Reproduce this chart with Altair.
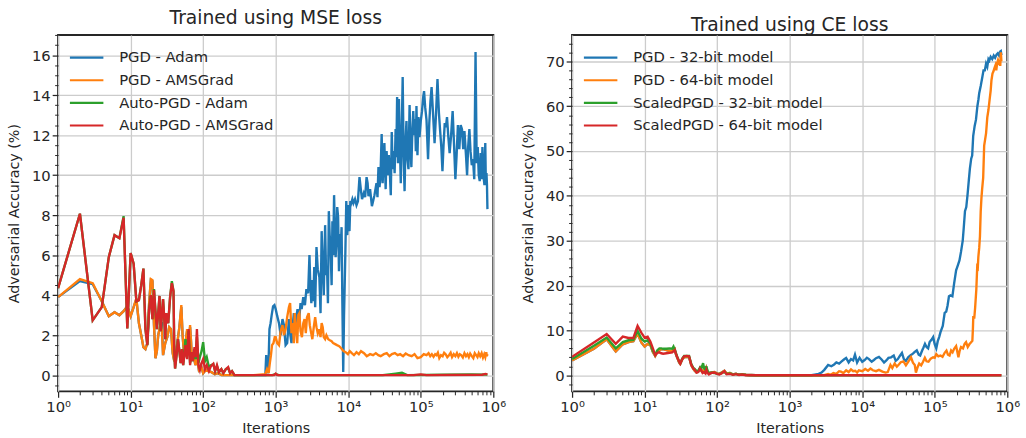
import altair as alt
import pandas as pd

# ---------------------------------------------------------------------------
# Adversarial accuracy (%) against attack iterations, as (iteration, value)
# ---------------------------------------------------------------------------

# Left panel: model trained with MSE loss
mse_names = ["PGD - Adam", "PGD - AMSGrad", "Auto-PGD - Adam", "Auto-PGD - AMSGrad"]

mse_pgd_adam = [
    (1, 3.9), (2, 4.7), (3, 4.55), (4, 3.7), (5, 2.95), (6, 3.15), (7, 3.0), (8, 3.2), (9, 3.45),
    (10, 2.95), (11, 3.4), (12, 3.8), (13, 2.6), (14, 2.0), (15, 1.4), (16, 1.3), (17, 1.6),
    (18, 3.6), (19, 4.75), (20, 4.7), (21, 2.5), (22, 0.85), (23, 1.2), (24, 2.0), (26, 2.6),
    (27, 2.6), (28, 1.0), (30, 1.6), (32, 1.9), (34, 2.4), (36, 2.3), (38, 1.1), (40, 0.7),
    (42, 1.1), (44, 1.6), (47, 2.4), (50, 3.4), (52, 2.0), (55, 0.9), (58, 1.8), (60, 2.2),
    (63, 1.5), (66, 2.4), (68, 1.7), (70, 0.8), (74, 1.0), (78, 0.5), (82, 0.9), (87, 0.3),
    (93, 0.5), (100, 0.1), (108, 0.25), (118, 0.2), (130, 0.15), (145, 0.05), (160, 0.1),
    (180, 0.0), (300, 0.0), (500, 0.0), (720, 0.0), (740, 1.0), (760, 0.3), (790, 0.1),
    (820, 2.3), (850, 2.6), (880, 3.0), (920, 3.44), (960, 3.5), (1000, 3.3), (1050, 2.95),
    (1110, 2.6), (1170, 2.0), (1240, 2.8), (1300, 2.5), (1370, 1.5), (1440, 1.6), (1520, 2.8),
    (1580, 2.1), (1650, 1.6), (1720, 2.5), (1780, 3.1), (1850, 2.3), (1920, 2.9), (2000, 3.3),
    (2100, 2.7), (2200, 3.6), (2280, 3.3), (2400, 3.9), (2530, 3.5), (2650, 4.3), (2800, 4.1),
    (2920, 6.0), (3000, 4.5), (3100, 3.6), (3200, 4.75), (3300, 3.7), (3400, 5.4), (3500, 3.4),
    (3650, 6.4), (3800, 5.3), (4000, 4.9), (4150, 3.1), (4300, 7.2), (4450, 5.4), (4600, 4.0),
    (4800, 7.5), (4950, 5.0), (5100, 5.4), (5250, 3.6), (5400, 8.2), (5550, 7.0), (5700, 6.4),
    (5900, 4.5), (6050, 7.7), (6200, 6.0), (6380, 9.0), (6550, 7.2), (6700, 5.9), (6900, 6.8),
    (7050, 8.4), (7250, 7.9), (7450, 5.2), (7700, 7.05), (7900, 6.5), (8100, 7.4), (8300, 3.6),
    (8530, 0.16), (8750, 3.0), (8900, 4.2), (9100, 5.9), (9400, 8.7), (9700, 7.0), (10000, 8.5),
    (10400, 7.2), (10700, 8.7), (11000, 8.6), (11400, 8.8), (11800, 8.6), (12400, 8.8),
    (13000, 8.5), (13600, 8.7), (14300, 9.9), (14900, 9.3), (15500, 8.8), (16400, 9.1),
    (17100, 8.9), (17900, 9.9), (18500, 9.6), (19000, 8.95), (20000, 9.3), (21200, 8.45),
    (22000, 8.7), (23000, 9.0), (24500, 9.6), (25300, 8.9), (26100, 10.4), (27000, 9.4),
    (27800, 9.9), (28900, 12.05), (29800, 9.6), (30600, 10.5), (31500, 11.6), (32800, 9.3),
    (33800, 11.2), (35000, 10.0), (36200, 11.0), (37400, 10.2), (38600, 9.0), (39800, 12.15),
    (41000, 10.3), (42400, 11.2), (43600, 10.1), (45000, 12.3), (46000, 10.9), (47200, 13.9),
    (48500, 10.6), (50000, 13.8), (51500, 11.5), (53000, 9.6), (54600, 12.1), (56300, 14.9),
    (58000, 11.0), (59800, 9.2), (61500, 11.6), (63500, 12.7), (65500, 10.8), (67700, 10.3),
    (70100, 13.5), (72200, 11.4), (74200, 10.4), (76500, 12.2), (78800, 13.2), (81000, 12.0),
    (83500, 12.8), (85500, 11.2), (87200, 13.45), (90000, 11.0), (93000, 12.9), (96000, 11.9),
    (100000, 12.7), (104000, 13.2), (108000, 13.9), (111000, 14.2), (115000, 13.4),
    (120000, 12.75), (126000, 10.8), (131000, 12.6), (136000, 13.7), (141000, 14.4),
    (148000, 13.0), (155000, 11.6), (162000, 13.0), (170000, 14.8), (178000, 13.1),
    (185000, 12.2), (192000, 11.4), (199000, 10.2), (206000, 11.5), (214000, 12.6),
    (222000, 12.4), (230000, 12.9), (240000, 11.9), (250000, 11.1), (262000, 12.0),
    (275000, 13.2), (287000, 11.6), (300000, 9.8), (312000, 11.0), (325000, 12.5),
    (340000, 11.3), (355000, 12.5), (370000, 12.3), (385000, 11.3), (400000, 12.2),
    (420000, 11.0), (435000, 10.0), (450000, 11.4), (468000, 12.3), (485000, 11.2),
    (505000, 10.5), (525000, 10.8), (546000, 9.8), (569000, 16.15), (590000, 10.6),
    (610000, 11.4), (630000, 10.0), (650000, 9.7), (670000, 11.1), (690000, 9.8),
    (708000, 11.4), (730000, 10.0), (755000, 9.5), (775000, 11.6), (790000, 9.5),
    (805000, 10.1), (818000, 9.5), (830000, 8.3),
]

mse_pgd_amsgrad = [
    (1, 3.9), (2, 4.8), (3, 4.6), (4, 3.7), (5, 2.95), (6, 3.15), (7, 3.0), (8, 3.2), (9, 3.45),
    (10, 2.95), (11, 3.4), (12, 3.85), (13, 2.6), (14, 2.0), (15, 1.4), (16, 1.3), (17, 1.6),
    (18, 3.6), (19, 4.8), (20, 4.75), (21, 2.5), (22, 0.85), (23, 1.2), (24, 2.0), (26, 2.6),
    (27, 2.2), (28, 1.0), (30, 1.6), (32, 1.9), (34, 2.4), (36, 2.3), (38, 1.1), (40, 0.7),
    (42, 1.1), (44, 1.6), (47, 2.4), (50, 3.5), (52, 2.0), (55, 0.9), (58, 1.8), (60, 2.3),
    (63, 1.5), (66, 2.5), (68, 1.7), (70, 0.8), (74, 1.0), (78, 0.5), (82, 0.9), (87, 0.3),
    (93, 0.5), (100, 0.1), (108, 0.25), (118, 0.2), (130, 0.15), (145, 0.05), (160, 0.1),
    (180, 0.0), (300, 0.0), (500, 0.0), (720, 0.05), (760, 0.3), (800, 0.1), (830, 0.6),
    (860, 1.0), (890, 1.5), (930, 1.6), (970, 1.9), (1000, 1.9), (1050, 1.6), (1110, 1.5),
    (1170, 2.2), (1240, 2.5), (1300, 2.0), (1370, 2.3), (1440, 2.9), (1520, 3.4), (1580, 3.6),
    (1650, 2.1), (1720, 2.6), (1780, 1.6), (1830, 3.1), (1900, 2.4), (1980, 1.6), (2050, 3.0),
    (2120, 3.1), (2200, 2.2), (2300, 1.9), (2400, 2.6), (2500, 2.8), (2600, 2.1), (2700, 2.9),
    (2850, 3.1), (2950, 2.5), (3050, 2.2), (3200, 1.8), (3350, 2.4), (3500, 2.9), (3650, 2.4),
    (3800, 2.1), (3960, 2.3), (4150, 1.9), (4300, 2.6), (4450, 2.4), (4600, 1.9), (4800, 1.8),
    (5000, 2.0), (5300, 1.8), (5580, 1.75), (5900, 1.7), (6200, 1.6), (6600, 1.55), (7000, 1.5),
    (7500, 1.45), (8000, 1.35), (8600, 1.2), (9200, 1.15), (9900, 1.05), (10500, 1.2),
    (11200, 1.1), (12000, 1.0), (13000, 1.15), (14000, 1.05), (15000, 1.2), (16500, 1.1),
    (18000, 0.95), (20000, 1.05), (22000, 1.0), (24000, 1.1), (26000, 1.0), (28000, 0.95),
    (31000, 1.05), (34000, 1.1), (37000, 0.95), (40000, 1.05), (44000, 1.1), (48000, 1.0),
    (52000, 1.05), (57000, 0.95), (62000, 1.08), (68000, 1.0), (75000, 0.95), (82000, 1.05),
    (90000, 0.85), (100000, 0.9), (110000, 1.05), (120000, 1.0), (128000, 1.1), (135000, 0.95),
    (142000, 1.05), (150000, 0.92), (158000, 1.05), (165000, 1.0), (172000, 1.12),
    (180000, 0.85), (190000, 1.0), (200000, 0.95), (210000, 1.12), (220000, 1.05),
    (232000, 0.9), (245000, 1.0), (258000, 1.12), (270000, 0.9), (285000, 1.05),
    (300000, 0.95), (315000, 1.1), (330000, 0.92), (345000, 1.05), (360000, 1.0),
    (380000, 0.88), (400000, 1.1), (420000, 0.95), (440000, 1.05), (460000, 0.9),
    (480000, 1.08), (505000, 0.95), (530000, 0.85), (555000, 1.1), (580000, 1.0),
    (605000, 0.9), (630000, 1.1), (660000, 0.95), (690000, 1.1), (720000, 0.88),
    (750000, 1.05), (775000, 0.9), (800000, 1.15), (815000, 0.95), (830000, 1.05),
]

mse_apgd_adam = [
    (1, 4.35), (2, 8.07), (3, 2.74), (4, 3.4), (5, 5.9), (6, 7.0), (7, 6.85), (8, 7.95), (9, 2.33),
    (10, 6.11), (11, 5.57), (12, 3.69), (13, 3.75), (14, 4.5), (15, 5.33), (16, 2.3), (17, 1.5),
    (18, 3.3), (19, 4.0), (20, 2.8), (21, 4.3), (22, 3.2), (23, 2.3), (24, 3.1), (25, 3.96),
    (26, 2.2), (27, 3.0), (28, 3.8), (29, 2.9), (30, 1.8), (31, 3.1), (33, 2.6), (35, 3.9),
    (37, 4.7), (39, 4.2), (40, 1.2), (41, 0.33), (43, 1.0), (45, 1.8), (47, 1.2), (49, 0.6),
    (51, 1.3), (53, 0.5), (55, 1.1), (57, 1.8), (60, 1.0), (63, 2.2), (66, 0.6), (69, 1.0),
    (72, 0.7), (76, 1.3), (79, 0.8), (82, 1.9), (86, 0.6), (90, 0.9), (95, 1.2), (100, 1.65),
    (106, 0.7), (112, 0.9), (120, 0.4), (128, 0.5), (138, 0.55), (146, 0.2), (155, 0.45),
    (165, 0.15), (178, 0.3), (190, 0.1), (205, 0.3), (221, 0.35), (235, 0.1), (250, 0.2),
    (270, 0.0), (900, 0.0), (1000, 0.06), (1100, 0.0), (30000, 0.0), (45000, 0.08),
    (55000, 0.12), (65000, 0.0), (200000, 0.02), (500000, 0.04), (830000, 0.03),
]

mse_apgd_amsgrad = [
    (1, 4.35), (2, 8.07), (3, 2.74), (4, 3.4), (5, 5.9), (6, 7.0), (7, 6.85), (8, 7.87), (9, 2.33),
    (10, 6.11), (11, 5.57), (12, 3.69), (13, 3.75), (14, 4.5), (15, 5.33), (16, 2.3), (17, 1.5),
    (18, 3.3), (19, 4.0), (20, 2.8), (21, 4.26), (22, 3.2), (23, 2.3), (24, 3.1), (25, 3.96),
    (26, 2.2), (27, 3.0), (28, 3.8), (29, 2.9), (30, 1.8), (31, 3.1), (33, 2.6), (35, 3.9),
    (37, 4.6), (39, 4.2), (40, 1.2), (41, 0.33), (43, 1.0), (45, 1.8), (47, 1.2), (49, 0.6),
    (51, 1.3), (53, 0.5), (55, 1.0), (57, 1.5), (60, 0.8), (63, 2.3), (66, 0.5), (69, 1.15),
    (72, 0.7), (76, 1.4), (79, 0.9), (82, 2.3), (86, 0.5), (90, 0.25), (95, 0.6), (100, 0.8),
    (106, 0.3), (112, 0.5), (120, 0.2), (128, 0.45), (138, 0.57), (146, 0.2), (155, 0.5),
    (165, 0.15), (178, 0.3), (190, 0.1), (205, 0.3), (221, 0.4), (235, 0.1), (250, 0.2),
    (270, 0.0), (950, 0.0), (1000, 0.08), (1050, 0.0), (80000, 0.0), (100000, 0.04),
    (120000, 0.0), (700000, 0.02), (780000, 0.06), (830000, 0.04),
]

# Right panel: model trained with CE loss
ce_names = ["PGD - 32-bit model", "PGD - 64-bit model",
            "ScaledPGD - 32-bit model", "ScaledPGD - 64-bit model"]

ce_pgd_32 = [
    (1, 3.3), (2, 5.9), (3, 8.0), (4, 5.3), (5, 6.9), (6, 7.4), (7, 7.6), (8, 9.3), (9, 7.3),
    (10, 6.4), (11, 7.0), (12, 6.7), (13, 5.2), (14, 4.3), (15, 5.3), (16, 5.6), (17, 5.8),
    (18, 5.8), (20, 5.6), (22, 5.4), (24, 5.5), (26, 5.9), (27, 4.7), (28, 4.0), (30, 2.8),
    (31, 2.5), (33, 3.5), (35, 4.0), (38, 4.1), (41, 4.0), (44, 2.2), (47, 1.4), (49, 1.0),
    (52, 0.6), (55, 0.9), (58, 1.6), (60, 1.0), (63, 0.7), (66, 1.5), (69, 0.9), (71, 1.6),
    (74, 0.7), (77, 0.4), (82, 0.5), (91, 0.7), (100, 0.4), (107, 0.3), (115, 0.6),
    (126, 1.0), (135, 0.4), (150, 0.5), (165, 0.2), (182, 0.35), (200, 0.1), (220, 0.2),
    (250, 0.1), (300, 0.05), (340, 0.0), (2000, 0.0), (2200, 0.15), (2500, 0.3), (2750, 0.6),
    (3000, 1.2), (3390, 2.3), (3750, 2.0), (4100, 2.4), (4400, 2.85), (4800, 2.6), (5200, 3.1),
    (5600, 3.5), (6000, 3.86), (6500, 2.85), (7000, 3.6), (7500, 3.3), (7950, 4.6), (8500, 2.85),
    (9200, 3.9), (10000, 3.0), (10800, 3.4), (11600, 3.9), (12400, 3.6), (13500, 3.0),
    (14500, 3.4), (15500, 3.8), (17000, 4.1), (18500, 3.5), (20000, 2.85), (21500, 3.3),
    (23000, 3.86), (25000, 4.0), (27200, 4.4), (29000, 3.2), (31000, 3.6), (33000, 4.3),
    (35300, 4.96), (37500, 3.6), (40000, 3.2), (43000, 4.0), (46000, 4.4), (50000, 4.8),
    (53000, 5.2), (56500, 5.55), (60000, 4.6), (63000, 4.4), (67000, 5.5), (70000, 6.2),
    (73300, 7.0), (77000, 6.3), (81000, 6.0), (85000, 7.4), (90000, 7.9), (95000, 8.5),
    (100000, 6.9), (105000, 6.0), (110000, 7.6), (115000, 8.5), (120000, 9.6), (129000, 11.0),
    (137000, 13.9), (144000, 14.2), (150000, 15.5), (157000, 17.6), (165000, 17.8),
    (175000, 17.6), (185000, 20.5), (197000, 23.4), (208000, 24.5), (219000, 25.6),
    (230000, 27.5), (243000, 30.0), (250000, 32.5), (261000, 36.6), (272000, 37.5),
    (283000, 40.2), (295000, 43.5), (305000, 46.1), (318000, 48.3), (328000, 49.0),
    (339000, 53.4), (355000, 55.6), (370000, 57.0), (387000, 60.0), (400000, 61.5),
    (410000, 62.9), (430000, 64.5), (453000, 66.5), (470000, 68.0), (490000, 68.0),
    (510000, 69.5), (530000, 68.8), (550000, 70.5), (566000, 70.2), (590000, 71.0),
    (620000, 70.5), (650000, 71.3), (680000, 70.8), (710000, 71.5), (740000, 71.8),
    (770000, 71.3), (800000, 72.2), (815000, 72.3), (830000, 71.4),
]

ce_pgd_64 = [
    (1, 3.3), (2, 5.9), (3, 8.0), (4, 5.3), (5, 6.9), (6, 7.4), (7, 7.6), (8, 9.3), (9, 7.3),
    (10, 6.4), (11, 7.0), (12, 6.7), (13, 5.2), (14, 4.3), (15, 5.3), (16, 5.6), (17, 5.8),
    (18, 5.8), (20, 5.6), (22, 5.4), (24, 5.5), (26, 5.9), (27, 4.7), (28, 4.0), (30, 2.8),
    (31, 2.5), (33, 3.5), (35, 4.0), (38, 4.1), (41, 4.0), (44, 2.2), (47, 1.4), (49, 1.0),
    (52, 0.6), (55, 0.9), (58, 1.6), (60, 1.0), (63, 0.7), (66, 1.5), (69, 0.9), (71, 1.6),
    (74, 0.7), (77, 0.4), (82, 0.5), (91, 0.7), (100, 0.4), (107, 0.3), (115, 0.6),
    (126, 1.0), (135, 0.4), (150, 0.5), (165, 0.2), (182, 0.35), (200, 0.1), (220, 0.2),
    (250, 0.1), (300, 0.05), (340, 0.0), (3000, 0.0), (3390, 0.3), (3700, 0.1), (4000, 0.5),
    (4400, 0.3), (4800, 0.9), (5100, 0.8), (5500, 0.5), (6000, 1.1), (6500, 0.7), (7000, 1.3),
    (7500, 0.9), (8000, 1.0), (8500, 0.6), (9000, 1.1), (10000, 0.9), (11000, 1.4),
    (12000, 1.0), (13000, 1.5), (14000, 1.1), (15500, 0.9), (17000, 1.2), (19000, 0.8),
    (21000, 0.6), (22500, 0.7), (24500, 2.3), (26000, 1.6), (28000, 2.6), (30000, 1.9),
    (32000, 2.4), (34000, 2.9), (37000, 3.1), (40000, 2.2), (43000, 3.0), (47000, 4.0),
    (50000, 2.8), (53000, 2.3), (55000, 0.6), (58000, 1.8), (61000, 2.6), (65000, 2.2),
    (69000, 3.0), (73000, 3.9), (77000, 3.1), (82000, 3.0), (88000, 3.7), (95000, 4.0),
    (100000, 3.9), (105000, 4.7), (112000, 4.2), (120000, 4.4), (128000, 4.1), (137000, 5.0),
    (145000, 5.5), (152000, 4.6), (160000, 4.4), (168000, 5.5), (176000, 5.1), (185000, 5.9),
    (197000, 6.5), (205000, 5.2), (212000, 4.0), (220000, 5.4), (230000, 6.3), (245000, 6.0),
    (258000, 7.0), (270000, 7.4), (285000, 6.3), (300000, 6.9), (315000, 7.3), (330000, 7.7),
    (336000, 10.5), (340000, 13.2), (350000, 12.6), (360000, 15.0), (374000, 19.1),
    (385000, 24.2), (392000, 24.0), (399000, 26.4), (410000, 28.4), (420000, 31.0),
    (430000, 36.5), (440000, 39.5), (450000, 41.5), (465000, 44.0), (480000, 51.2),
    (495000, 52.6), (510000, 54.0), (530000, 57.5), (550000, 59.2), (570000, 61.4),
    (590000, 63.5), (605000, 65.8), (625000, 67.3), (645000, 67.8), (665000, 68.5),
    (686000, 69.1), (705000, 68.0), (725000, 69.6), (745000, 70.3), (765000, 69.8),
    (785000, 70.3), (800000, 69.0), (815000, 72.0), (830000, 70.0),
]

ce_scaled_32 = [
    (1, 3.6), (2, 6.6), (3, 8.4), (4, 6.0), (5, 7.4), (6, 7.8), (7, 7.9), (8, 9.9), (9, 8.2),
    (10, 7.5), (11, 7.8), (12, 7.0), (13, 5.4), (14, 4.6), (15, 5.6), (16, 6.0), (17, 6.0),
    (18, 5.9), (20, 5.9), (22, 6.0), (24, 5.9), (25, 6.4), (27, 5.0), (28, 4.2), (30, 3.0),
    (31, 2.7), (33, 3.7), (35, 4.3), (38, 4.3), (41, 4.3), (44, 2.5), (47, 1.6), (49, 1.4),
    (52, 0.9), (55, 1.0), (58, 1.7), (60, 1.4), (62, 2.0), (64, 2.7), (66, 1.6), (69, 1.2),
    (71, 2.0), (74, 0.9), (77, 0.5), (82, 0.6), (91, 0.5), (100, 0.3), (107, 0.25),
    (115, 0.5), (126, 0.7), (135, 0.3), (150, 0.4), (165, 0.15), (182, 0.3), (200, 0.1),
    (220, 0.2), (250, 0.05), (280, 0.0), (830000, 0.0),
]

ce_scaled_64 = [
    (1, 4.1), (2, 7.3), (3, 9.2), (4, 7.0), (5, 8.6), (6, 8.3), (7, 8.3), (8, 11.0), (9, 9.5),
    (10, 8.4), (11, 8.6), (12, 7.5), (13, 6.0), (14, 4.45), (15, 5.0), (16, 5.1), (17, 4.9),
    (18, 4.8), (20, 4.9), (22, 5.0), (24, 5.1), (26, 5.6), (27, 4.8), (28, 4.1), (30, 3.0),
    (31, 2.6), (33, 3.6), (35, 4.2), (38, 4.3), (41, 4.2), (44, 2.3), (47, 1.5), (49, 1.2),
    (52, 0.6), (55, 0.7), (58, 1.5), (60, 1.2), (63, 0.5), (66, 0.7), (69, 0.4), (71, 1.2),
    (74, 0.5), (77, 0.2), (82, 0.5), (91, 0.6), (100, 0.3), (107, 0.15), (115, 0.4),
    (126, 0.9), (135, 0.2), (150, 0.3), (165, 0.1), (182, 0.25), (200, 0.05), (220, 0.15),
    (250, 0.0), (830000, 0.0),
]

# ---------------------------------------------------------------------------
FONT = "DejaVu Sans"
INK = "#262626"
GRID = "#cccccc"
PALETTE = ["#1f77b4", "#ff7f0e", "#2ca02c", "#d62728"]

# log-axis ticks: every k * 10^d, labels and grid only on the decades
X_TICKS = [k * 10 ** d for d in range(6) for k in range(1, 10)] + [10 ** 6]
X_DECADE = "abs(log(datum.value) / LN10 - round(log(datum.value) / LN10)) < 0.0001"
X_LABEL = (X_DECADE + " ? '10' + ['\u2070','\u00b9','\u00b2','\u00b3','\u2074','\u2075','\u2076']"
           "[round(log(datum.value) / LN10)] : ''")


def series_frame(names, series):
    rows = []
    for name, pts in zip(names, series):
        for it, acc in pts:
            rows.append({"Iterations": it, "acc": acc, "series": name})
    return pd.DataFrame(rows)


def panel(title, names, series, y_domain, y_step, y_major):
    lo = int(-(-y_domain[0] // y_step))
    hi = int(y_domain[1] // y_step)
    y_ticks = [round(i * y_step, 6) for i in range(lo, hi + 1)]
    y_is_major = f"abs(datum.value % {y_major}) < 0.0001"

    x = alt.X(
        "Iterations:Q",
        scale=alt.Scale(type="log", domain=[1, 10 ** 6], nice=False),
        axis=alt.Axis(
            title="Iterations",
            values=X_TICKS,
            labelExpr=X_LABEL,
            labelOverlap=False,
            labelFlush=False,
            labelFontSize=15,
            labelPadding=2,
            tickSize={"condition": {"test": X_DECADE, "value": 6}, "value": 3.5},
            tickWidth={"condition": {"test": X_DECADE, "value": 1.25}, "value": 1},
            gridOpacity={"condition": {"test": X_DECADE, "value": 1}, "value": 0},
            titlePadding=8,
        ),
    )
    y = alt.Y(
        "acc:Q",
        scale=alt.Scale(domain=y_domain, nice=False, zero=False),
        axis=alt.Axis(
            title="Adversarial Accuracy (%)",
            values=y_ticks,
            labelExpr=f"{y_is_major} ? format(datum.value, 'd') : ''",
            labelOverlap=False,
            labelFontSize=15,
            labelPadding=2,
            tickSize={"condition": {"test": y_is_major, "value": 6}, "value": 3.5},
            tickWidth={"condition": {"test": y_is_major, "value": 1.25}, "value": 1},
            gridOpacity={"condition": {"test": y_is_major, "value": 1}, "value": 0},
            titlePadding=10,
        ),
    )
    color = alt.Color(
        "series:N",
        scale=alt.Scale(domain=names, range=PALETTE),
        legend=alt.Legend(
            title=None,
            orient="none",
            legendX=-2,
            legendY=13,
            padding=0,
            symbolType="M-2,0H2",
            symbolSize=289,
            symbolStrokeWidth=2.2,
            symbolOffset=21,
            labelOffset=23,
            labelLimit=400,
            rowPadding=5,
            labelFont=FONT,
            labelFontSize=15,
            labelColor=INK,
        ),
    )
    df = series_frame(names, series)
    layers = [
        alt.Chart(df[df["series"] == name])
        .mark_line(strokeWidth=2.4, clip=True)
        .encode(x=x, y=y, color=color)
        for name in names
    ]
    return alt.layer(*layers).properties(
        width=442,
        height=362,
        title=alt.TitleParams(title, fontSize=19, font=FONT, color=INK,
                              fontWeight="normal", offset=0),
    )


left = panel("Trained using MSE loss", mse_names,
             [mse_pgd_adam, mse_pgd_amsgrad, mse_apgd_adam, mse_apgd_amsgrad],
             [-0.81, 17.01], 0.5, 2)
right = panel("Trained using CE loss", ce_names,
              [ce_pgd_32, ce_pgd_64, ce_scaled_32, ce_scaled_64],
              [-3.6, 75.9], 2, 10)

chart = (
    alt.hconcat(left, right, spacing=80, bounds="flush")
    .resolve_scale(color="independent", x="independent", y="independent")
    .properties(padding={"left": 5, "top": 5, "right": 5, "bottom": 5},
                background="white")
    .configure_view(stroke=INK, strokeWidth=2)
    .configure_axis(
        domain=False,
        grid=True,
        gridColor=GRID,
        gridWidth=1.3,
        tickColor=INK,
        labelColor=INK,
        labelFont=FONT,
        titleColor=INK,
        titleFont=FONT,
        titleFontSize=14.5,
        titleFontWeight="normal",
    )
)

chart.save("out.html", embed_options={"renderer": "svg", "actions": False})
